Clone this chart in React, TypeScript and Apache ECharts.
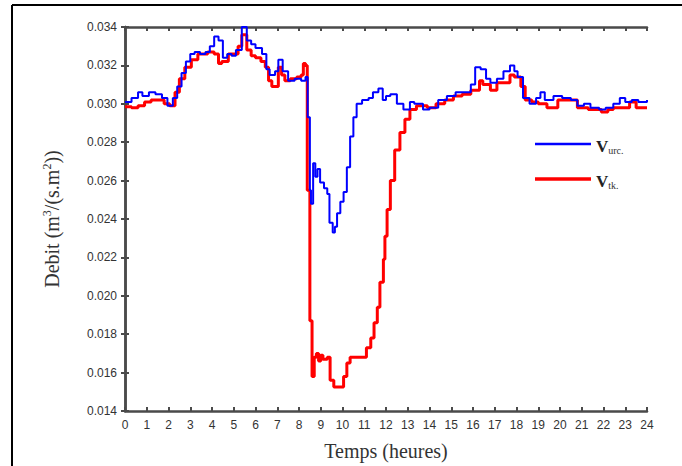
import React, { useEffect, useRef } from "react";
import * as echarts from "echarts";

// Hourly flow over one day (hours, m3/(s.m2))
const urcHours = [
  0, 0.3, 0.6, 0.8, 1.1, 1.4, 1.7, 1.95, 2.2, 2.4, 2.6, 2.8, 3.0, 3.2, 3.45, 3.7, 3.9, 4.1, 4.3, 4.5,
  4.7, 4.9, 5.1, 5.37, 5.6, 5.8, 6.0, 6.3, 6.5, 6.65, 6.9, 7.05, 7.25, 7.5, 7.8, 8.1, 8.3, 8.4, 8.5,
  8.55, 8.65, 8.75, 8.85, 8.97, 9.15, 9.3, 9.4, 9.55, 9.65, 9.75, 9.9, 10.05, 10.2, 10.35, 10.5,
  10.65, 10.9, 11.2, 11.4, 11.65, 11.85, 12.0, 12.2, 12.5, 12.8, 13.1, 13.3, 13.7, 14.0, 14.4, 14.8,
  15.2, 15.6, 15.9, 16.1, 16.35, 16.6, 16.8, 17.1, 17.4, 17.7, 17.9, 18.05, 18.3, 18.6, 18.9, 19.1,
  19.3, 19.7, 20.1, 20.5, 20.8, 21.1, 21.4, 21.8, 22.1, 22.45, 22.75, 23.0, 23.3, 23.6, 24,
];
const urcFlow = [
  0.0301, 0.0303, 0.0306, 0.0304, 0.0306, 0.0305, 0.0303, 0.0299, 0.0303, 0.0309, 0.0316, 0.0322,
  0.0326, 0.0327, 0.0326, 0.0327, 0.033, 0.0335, 0.0333, 0.0324, 0.0326, 0.0325, 0.0328, 0.034,
  0.0333, 0.0331, 0.0329, 0.0326, 0.0318, 0.0315, 0.0317, 0.0323, 0.0317, 0.0312, 0.0313, 0.0312,
  0.0314, 0.0293, 0.0255, 0.0248, 0.0269, 0.0262, 0.0266, 0.0259, 0.0256, 0.0253, 0.0238, 0.0233,
  0.0236, 0.0243, 0.0249, 0.0254, 0.0267, 0.0283, 0.0293, 0.03, 0.0302, 0.0303, 0.0306, 0.0308,
  0.0302, 0.0304, 0.0305, 0.03, 0.0297, 0.0301, 0.03, 0.0297, 0.0298, 0.0302, 0.0304, 0.0306,
  0.0306, 0.031, 0.0319, 0.0318, 0.0313, 0.0311, 0.0313, 0.0317, 0.032, 0.0317, 0.0314, 0.0303,
  0.03, 0.0303, 0.0306, 0.0302, 0.0304, 0.0303, 0.0302, 0.0299, 0.03, 0.0298, 0.0297, 0.0298,
  0.03, 0.0303, 0.0301, 0.0302, 0.0301, 0.0302,
];

const tkHours = [
  0, 0.3, 0.6, 0.9, 1.2, 1.5, 1.8, 2.05, 2.3, 2.5, 2.75, 3.05, 3.35, 3.6, 3.8, 4.1, 4.3, 4.45, 4.75,
  5.0, 5.2, 5.37, 5.6, 5.8, 6.0, 6.25, 6.45, 6.6, 6.75, 7.05, 7.2, 7.35, 7.6, 7.9, 8.1, 8.2, 8.3,
  8.38, 8.45, 8.5, 8.6, 8.7, 8.8, 8.9, 9.0, 9.1, 9.3, 9.43, 9.6, 9.9, 10.05, 10.2, 10.35, 10.8, 11.1,
  11.3, 11.45, 11.6, 11.72, 11.88, 11.95, 12.05, 12.2, 12.4, 12.64, 12.87, 13.1, 13.4, 13.9, 14.3,
  14.7, 15.1, 15.5, 15.9, 16.3, 16.45, 16.8, 17.1, 17.3, 17.7, 17.9, 18.2, 18.4, 18.7, 19.0, 19.4,
  19.9, 20.4, 20.8, 21.3, 21.6, 21.9, 22.2, 22.45, 22.9, 23.2, 23.5, 24,
];
const tkFlow = [
  0.02985, 0.0298, 0.0299, 0.0301, 0.0302, 0.0302, 0.03, 0.0299, 0.0306, 0.0313, 0.0319, 0.0323,
  0.0326, 0.0326, 0.0327, 0.0326, 0.0321, 0.0322, 0.0326, 0.0326, 0.033, 0.0336, 0.0328, 0.0325,
  0.0324, 0.0322, 0.0319, 0.0312, 0.0309, 0.0319, 0.0315, 0.0312, 0.0313, 0.0314, 0.0315, 0.0321,
  0.032, 0.0255, 0.0255, 0.0187, 0.0158, 0.0168, 0.017, 0.0166, 0.0169, 0.0167, 0.0168, 0.0156,
  0.01525, 0.01525, 0.0158, 0.0165, 0.0168, 0.0168, 0.0173, 0.0178, 0.0186, 0.0194, 0.0207, 0.0219,
  0.0231, 0.0245, 0.026, 0.0276, 0.0285, 0.0292, 0.0297, 0.0299, 0.0298, 0.03, 0.0302, 0.0304,
  0.0305, 0.0307, 0.0312, 0.031, 0.0307, 0.0311, 0.0311, 0.0315, 0.0314, 0.0309, 0.0302, 0.0301,
  0.03, 0.0298, 0.0302, 0.0302, 0.0298, 0.0297, 0.0297, 0.02957, 0.0297, 0.0298, 0.0298, 0.0301,
  0.0298, 0.0298,
];

const seriesNames = ["urc.", "tk."];
const seriesColors = ["#0000ff", "#ff0000"];
const seriesWidths = [2, 3];

const zip = (xs: number[], ys: number[]) => xs.map((x, i) => [x, ys[i]]);

const serif = "'Liberation Serif', 'DejaVu Serif', serif";
const sans = "'Liberation Sans', 'DejaVu Sans', sans-serif";
const axisColor = "#4a4a4a";

// One legend block per series so each key line keeps its own thickness
const legendFor = (i: number, top: number) => ({
  orient: "vertical",
  left: 530,
  top,
  icon: "rect",
  itemWidth: 56,
  itemHeight: seriesWidths[i] + 0.5,
  data: [seriesNames[i]],
  formatter: (name: string) => `{v|V}{s|${name}}`,
  textStyle: {
    rich: {
      v: { fontFamily: serif, fontSize: 17, fontWeight: "bold", color: "#222", verticalAlign: "bottom" },
      s: { fontFamily: serif, fontSize: 10, color: "#333", padding: [12, 0, 0, 0], verticalAlign: "bottom" },
    },
  },
});

export default function App() {
  const ref = useRef<HTMLDivElement>(null);

  useEffect(() => {
    if (!ref.current) return;
    const chart = echarts.init(ref.current, null, { renderer: "svg" });

    const frameLine = { color: axisColor, width: 2.5 };
    const tickStyle = { inside: true, length: 4, lineStyle: { color: axisColor, width: 2 } };

    chart.setOption({
      animation: false,
      backgroundColor: "#ffffff",
      grid: { left: 125, top: 27, right: 35, bottom: 55, containLabel: false },
      graphic: [
        { type: "line", shape: { x1: 12, y1: 5, x2: 682, y2: 5 }, style: { stroke: "#000", lineWidth: 2 } },
        { type: "line", shape: { x1: 12, y1: 5, x2: 12, y2: 466 }, style: { stroke: "#000", lineWidth: 2 } },
      ],
      legend: [legendFor(0, 133), legendFor(1, 168)],
      xAxis: [
        {
          type: "value",
          min: 0,
          max: 24,
          interval: 1,
          position: "bottom",
          name: "Temps (heures)",
          nameLocation: "middle",
          nameGap: 30,
          nameTextStyle: { fontFamily: serif, fontSize: 20, color: "#333" },
          axisLine: { lineStyle: frameLine },
          axisTick: tickStyle,
          axisLabel: { fontFamily: sans, fontSize: 12, color: "#333", margin: 8 },
          splitLine: { show: false },
        },
        {
          type: "value",
          min: 0,
          max: 24,
          interval: 1,
          position: "top",
          axisLine: { lineStyle: frameLine },
          axisTick: tickStyle,
          axisLabel: { show: false },
          splitLine: { show: false },
        },
      ],
      yAxis: [
        {
          type: "value",
          min: 0.014,
          max: 0.034,
          interval: 0.002,
          position: "left",
          name: "Debit (m{sup|3}/(s.m{sup|2}))",
          nameLocation: "middle",
          nameGap: 62,
          nameRotate: 90,
          nameTextStyle: {
            fontFamily: serif,
            fontSize: 20,
            color: "#333",
            rich: {
              sup: { fontFamily: serif, fontSize: 12, color: "#333", padding: [0, 0, 10, 0] },
            },
          },
          axisLine: { lineStyle: frameLine },
          axisTick: tickStyle,
          axisLabel: {
            fontFamily: sans,
            fontSize: 12,
            color: "#333",
            margin: 8,
            formatter: (v: number) => v.toFixed(3),
          },
          splitLine: { show: false },
        },
        {
          type: "value",
          min: 0.014,
          max: 0.034,
          interval: 0.002,
          position: "right",
          axisLine: { lineStyle: frameLine },
          axisTick: tickStyle,
          axisLabel: { show: false },
          splitLine: { show: false },
        },
      ],
      series: [
        {
          name: seriesNames[0],
          type: "line",
          step: "end",
          data: zip(urcHours, urcFlow),
          symbol: "none",
          color: seriesColors[0],
          lineStyle: { color: seriesColors[0], width: seriesWidths[0] },
          z: 3,
        },
        {
          name: seriesNames[1],
          type: "line",
          step: "end",
          data: zip(tkHours, tkFlow),
          symbol: "none",
          color: seriesColors[1],
          lineStyle: { color: seriesColors[1], width: seriesWidths[1] },
          z: 2,
        },
      ],
    });

    return () => chart.dispose();
  }, []);

  return (
    <div
      ref={ref}
      style={{ position: "fixed", left: 0, top: 0, width: 682, height: 466, background: "#fff" }}
    />
  );
}
